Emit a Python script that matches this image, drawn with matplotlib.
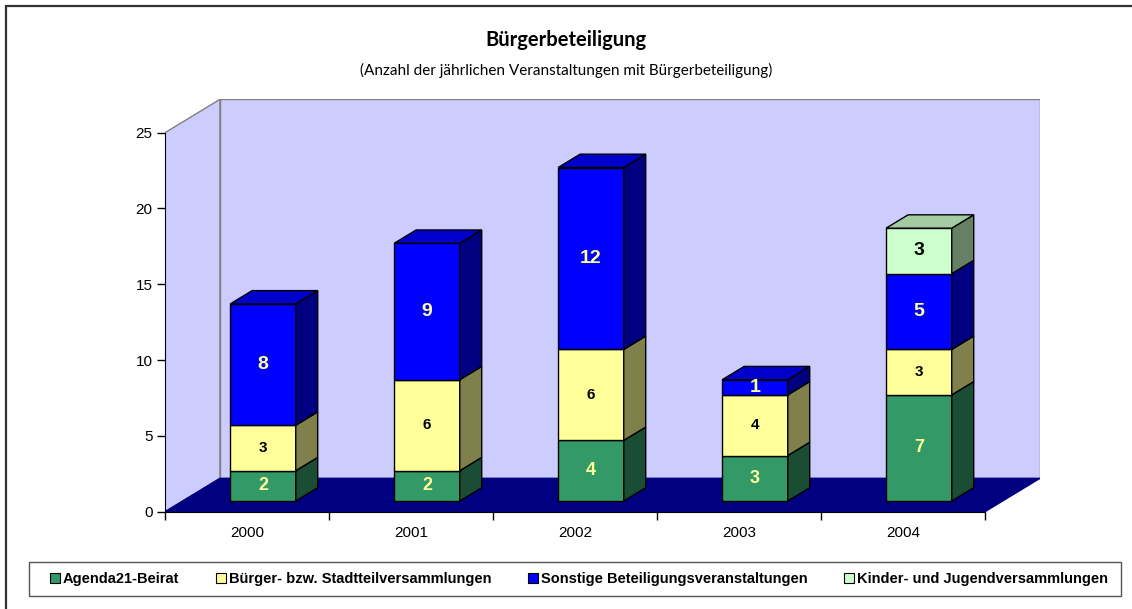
import matplotlib.pyplot as plt
from matplotlib.patches import Polygon, Rectangle, Patch
import numpy as np

# Daten
jahre = ['2000', '2001', '2002', '2003', '2004']
agenda21 = [2, 2, 4, 3, 7]
buerger = [3, 6, 6, 4, 3]
sonstige = [8, 9, 12, 1, 5]
kinder = [0, 0, 0, 0, 3]
serien = ['Agenda21-Beirat', 'Bürger- bzw. Stadtteilversammlungen',
          'Sonstige Beteiligungsveranstaltungen', 'Kinder- und Jugendversammlungen']

plt.rcParams['font.family'] = ['Liberation Sans', 'DejaVu Sans']

W, H = 1132, 609
fig = plt.figure(figsize=(W / 100, H / 100), dpi=100)

# Pseudo-3D: Tiefe der Wand in Kategorie- bzw. Werteinheiten
tiefe_x = 0.335
tiefe_y = 2.2
ymax = 25
n = len(jahre)

ax = fig.add_axes([165 / W, (H - 511.7) / H,
                   164 * (n + tiefe_x) / W, 15.16 * (ymax + tiefe_y) / H])
ax.set_xlim(0, n + tiefe_x)
ax.set_ylim(0, ymax + tiefe_y)
ax.patch.set_visible(False)

wand = '#CCCCFF'
# Seitenwand
ax.add_patch(Polygon([(0, 0), (0, ymax), (tiefe_x, ymax + tiefe_y), (tiefe_x, tiefe_y)],
                     closed=True, facecolor=wand, edgecolor='#808080', lw=1, zorder=0))
# Rueckwand
ax.add_patch(Rectangle((tiefe_x, tiefe_y), n, ymax, facecolor=wand,
                       edgecolor='#808080', lw=1, zorder=0))
# Boden
ax.add_patch(Polygon([(0, 0), (n, 0), (n + tiefe_x, tiefe_y), (tiefe_x, tiefe_y)],
                     closed=True, facecolor='#000080', edgecolor='#000080', lw=1, zorder=1))

# Achsen
for s in ['top', 'right']:
    ax.spines[s].set_visible(False)
ax.spines['left'].set_bounds(0, ymax)
ax.spines['bottom'].set_bounds(0, n)
ax.set_yticks(range(0, ymax + 1, 5))
ax.tick_params(axis='y', direction='out', length=6, width=1, labelsize=11, pad=3)
ax.set_xticks(range(n + 1))
ax.set_xticklabels([])
ax.set_xticks(np.arange(n) + 0.5, minor=True)
ax.set_xticklabels(jahre, minor=True)
ax.tick_params(axis='x', which='major', direction='out', length=6, width=1)
ax.tick_params(axis='x', which='minor', length=0, labelsize=11, pad=10.5)

# Balken
f0 = 0.32      # Lage der Vorderseite in der Tiefe
fd = 0.40      # Balkentiefe
breite = 0.4
x0 = np.arange(n) + 0.49 + f0 * tiefe_x
dx, dy = fd * tiefe_x, fd * tiefe_y

stil = [
    (agenda21, '#339966', '#1A4D33', '#297A52', '#FFFF99', 13),
    (buerger, '#FFFF99', '#80804D', '#CCCC7A', 'black', 11),
    (sonstige, '#0000FF', '#000080', '#0000CC', '#FFFF99', 14),
    (kinder, '#CCFFCC', '#668066', '#A3CCA3', 'black', 14),
]

unten = np.zeros(n)
gesamt = np.sum([s[0] for s in stil], axis=0)
for werte, vorne, seite, oben, txt, gr in stil:
    werte = np.array(werte, dtype=float)
    for i in range(n):
        v = werte[i]
        if v == 0:
            continue
        yb = unten[i] + f0 * tiefe_y
        yt = yb + v
        xl = x0[i] - breite / 2
        xr = x0[i] + breite / 2
        ax.bar(x0[i], v, bottom=yb, width=breite, color=vorne,
               edgecolor='black', linewidth=1, zorder=3)
        ax.add_patch(Polygon([(xr, yb), (xr + dx, yb + dy), (xr + dx, yt + dy), (xr, yt)],
                             closed=True, facecolor=seite, edgecolor='black', lw=1, zorder=3))
        if unten[i] + v == gesamt[i]:
            ax.add_patch(Polygon([(xl, yt), (xr, yt), (xr + dx, yt + dy), (xl + dx, yt + dy)],
                                 closed=True, facecolor=oben, edgecolor='black', lw=1, zorder=3))
        ax.text(x0[i], yb + v / 2, str(int(v)), ha='center', va='center',
                color=txt, fontsize=gr, fontweight='bold', zorder=5)
    unten += werte

# Titel
fig.text(566 / W, 1 - 40 / H, 'Bürgerbeteiligung', ha='center', va='center',
         fontsize=14.5, fontweight='bold', family=['Lato', 'DejaVu Sans'])
fig.text(566 / W, 1 - 70 / H, '(Anzahl der jährlichen Veranstaltungen mit Bürgerbeteiligung)',
         ha='center', va='center', fontsize=11, family=['Lato', 'DejaVu Sans'])

# Legende
griffe = [Patch(facecolor=s[1], edgecolor='black', lw=0.8) for s in stil]
fig.legend(griffe, serien, loc='center', bbox_to_anchor=(579 / W, 1 - 579 / H),
           ncol=4, frameon=False, prop={'weight': 'bold', 'size': 10.5},
           handlelength=0.7, handleheight=0.7, handletextpad=0.2,
           columnspacing=2.5, borderpad=0)
fig.add_artist(Rectangle((29 / W, 1 - 596 / H), (1121 - 29) / W, 34 / H,
                         transform=fig.transFigure, fill=False,
                         edgecolor='#555555', lw=1))

# Rahmen um das Diagramm
fig.add_artist(Rectangle((6 / W, -0.1), 1.2, 1 - 6 / H + 0.1, transform=fig.transFigure,
                         fill=False, edgecolor='#333333', lw=1.6))

fig.savefig('out.png', dpi=100)
